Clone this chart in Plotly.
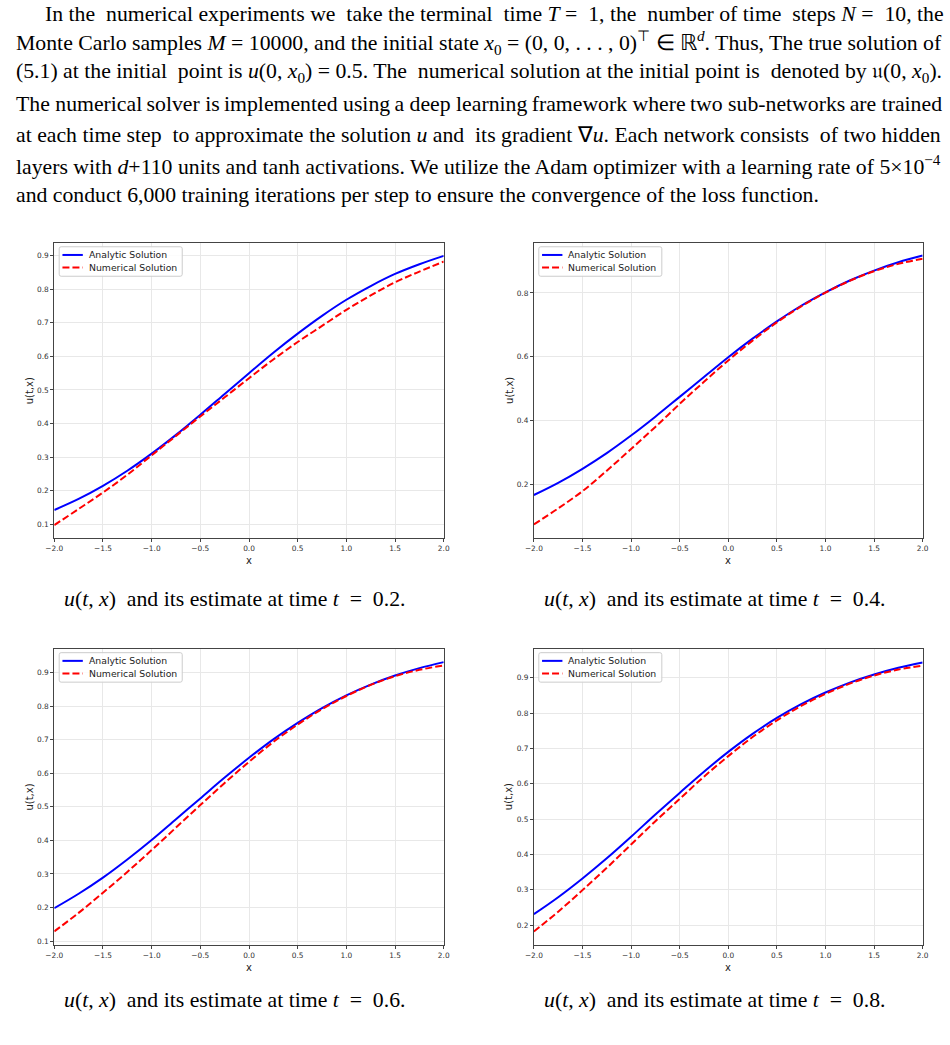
import plotly.graph_objects as go

# ---------------- data ----------------
x_vals = [-2.0, -1.75, -1.5, -1.25, -1.0, -0.75, -0.5, -0.25, 0.0,
          0.25, 0.5, 0.75, 1.0, 1.25, 1.5, 1.75, 2.0]

analytic_t02 = [0.142, 0.175, 0.214, 0.259, 0.310, 0.366, 0.426, 0.488, 0.550,
                0.611, 0.668, 0.721, 0.769, 0.810, 0.846, 0.875, 0.900]
numerical_t02 = [0.097, 0.145, 0.194, 0.247, 0.305, 0.363, 0.421, 0.478, 0.535,
                 0.591, 0.643, 0.691, 0.739, 0.782, 0.821, 0.853, 0.883]

analytic_t04 = [0.168, 0.206, 0.250, 0.299, 0.354, 0.413, 0.475, 0.537, 0.599,
                0.657, 0.711, 0.760, 0.802, 0.839, 0.870, 0.896, 0.917]
numerical_t04 = [0.076, 0.126, 0.180, 0.244, 0.312, 0.381, 0.453, 0.522, 0.589,
                 0.651, 0.708, 0.758, 0.801, 0.838, 0.868, 0.891, 0.907]

analytic_t06 = [0.198, 0.241, 0.289, 0.343, 0.401, 0.463, 0.525, 0.587, 0.646,
                0.701, 0.750, 0.794, 0.832, 0.864, 0.891, 0.913, 0.931]
numerical_t06 = [0.129, 0.184, 0.244, 0.306, 0.371, 0.438, 0.505, 0.571, 0.634,
                 0.693, 0.745, 0.791, 0.830, 0.863, 0.889, 0.908, 0.921]

analytic_t08 = [0.231, 0.279, 0.332, 0.389, 0.450, 0.513, 0.574, 0.634, 0.690,
                0.741, 0.786, 0.825, 0.858, 0.886, 0.909, 0.928, 0.943]
numerical_t08 = [0.182, 0.238, 0.299, 0.362, 0.428, 0.494, 0.557, 0.620, 0.678,
                 0.732, 0.779, 0.820, 0.854, 0.883, 0.906, 0.923, 0.934]

times = ["0.2", "0.4", "0.6", "0.8"]
series_names = ["Analytic Solution", "Numerical Solution"]
x_tick_vals = [-2.0, -1.5, -1.0, -0.5, 0.0, 0.5, 1.0, 1.5, 2.0]
y_ticks_t02 = [0.1, 0.2, 0.3, 0.4, 0.5, 0.6, 0.7, 0.8, 0.9]
y_ticks_t04 = [0.2, 0.4, 0.6, 0.8]
y_ticks_t06 = [0.1, 0.2, 0.3, 0.4, 0.5, 0.6, 0.7, 0.8, 0.9]
y_ticks_t08 = [0.2, 0.3, 0.4, 0.5, 0.6, 0.7, 0.8, 0.9]

paragraph_lines = [
    "In the numerical experiments we take the terminal time <i>T</i> = 1, the number of time steps <i>N</i> = 10, the",
    "Monte Carlo samples <i>M</i> = 10000, and the initial state <i>x</i><sub>0</sub> = (0, 0, . . . , 0)<sup>⊤</sup> ∈ ℝ<sup><i>d</i></sup>. Thus, The true solution of",
    "(5.1) at the initial point is <i>u</i>(0, <i>x</i><sub>0</sub>) = 0.5. The numerical solution at the initial point is denoted by 𝔲(0, <i>x</i><sub>0</sub>).",
    "The numerical solver is implemented using a deep learning framework where two sub-networks are trained",
    "at each time step to approximate the solution <i>u</i> and its gradient ∇<i>u</i>. Each network consists of two hidden",
    "layers with <i>d</i>+110 units and tanh activations. We utilize the Adam optimizer with a learning rate of 5×10<sup>−4</sup>",
    "and conduct 6,000 training iterations per step to ensure the convergence of the loss function.",
]

# ---------------- layout helpers ----------------
W, H = 950, 1045


def px(xp):
    return xp / W


def py(yp):
    return 1 - yp / H


def justify(text, n_extra, thin=0):
    """Widen (extra spaces) or narrow (thin spaces) inter-word gaps."""
    parts = text.split(" ")
    gaps = len(parts) - 1
    seps = [" "] * gaps
    if n_extra > 0:
        for k in range(n_extra):
            idx = int((k + 0.5) * gaps / n_extra)
            seps[idx] += " "
    if thin > 0:
        for k in range(thin):
            idx = int((k + 0.5) * gaps / thin)
            seps[idx] = "\u2009"
    out = parts[0]
    for s, p in zip(seps, parts[1:]):
        out += s + p
    return out


panels = [
    dict(a=analytic_t02, n=numerical_t02, yt=y_ticks_t02, yr=[0.057, 0.939],
         x0=46, x1=441.7, y0=243, y1=539, cap_x=230, cap_y=600),
    dict(a=analytic_t04, n=numerical_t04, yt=y_ticks_t04, yr=[0.032, 0.957],
         x0=533.3, x1=928.3, y0=243, y1=539, cap_x=717, cap_y=600),
    dict(a=analytic_t06, n=numerical_t06, yt=y_ticks_t06, yr=[0.088, 0.971],
         x0=46, x1=441.7, y0=649.3, y1=946, cap_x=230, cap_y=1001),
    dict(a=analytic_t08, n=numerical_t08, yt=y_ticks_t08, yr=[0.1435, 0.982],
         x0=533.3, x1=928.3, y0=649.3, y1=946, cap_x=717, cap_y=1001),
]

BLUE = "#0000ff"
RED = "#ff0000"
DASH = "7px,3px"
TEXT_SIZE = 21.75

fig = go.Figure()
layout = dict(
    width=W, height=H, margin=dict(l=0, r=0, t=0, b=0),
    paper_bgcolor="white", plot_bgcolor="white",
    font=dict(family="DejaVu Sans", color="#222"),
    showlegend=False,
    annotations=[], shapes=[],
)

tick_font = dict(family="DejaVu Sans", size=7.4, color="#333")
title_font = dict(family="DejaVu Sans", size=10, color="#222")
legend_font = dict(family="DejaVu Sans", size=9.3, color="#222")

for i, p in enumerate(panels):
    k = "" if i == 0 else str(i + 1)
    fig.add_trace(go.Scatter(
        x=x_vals, y=p["a"], mode="lines", name=series_names[0],
        line=dict(color=BLUE, width=2, shape="spline"),
        xaxis="x" + k, yaxis="y" + k))
    fig.add_trace(go.Scatter(
        x=x_vals, y=p["n"], mode="lines", name=series_names[1],
        line=dict(color=RED, width=2, dash=DASH, shape="spline"),
        xaxis="x" + k, yaxis="y" + k))

    axis_common = dict(
        showgrid=True, gridcolor="#e8e8e8", gridwidth=1, zeroline=False,
        showline=True, linecolor="#444", linewidth=1, mirror=True,
        ticks="outside", ticklen=3, tickcolor="#444", tickfont=tick_font,
        tickformat=".1f",
    )
    layout["xaxis" + k] = dict(
        domain=[px(p["x0"]), px(p["x1"])], anchor="y" + k,
        range=[-2, 2], tickvals=x_tick_vals, **axis_common)
    layout["yaxis" + k] = dict(
        domain=[py(p["y1"]), py(p["y0"])], anchor="x" + k,
        range=p["yr"], tickvals=p["yt"], **axis_common)

    # axis titles
    layout["annotations"].append(dict(
        x=px((p["x0"] + p["x1"]) / 2), y=py(p["y1"] + 22), xref="paper", yref="paper",
        text="x", showarrow=False, xanchor="center", yanchor="middle", font=title_font))
    layout["annotations"].append(dict(
        x=px(p["x0"] - 25), y=py((p["y0"] + p["y1"]) / 2), xref="paper", yref="paper",
        text="u(t,x)", textangle=-90, showarrow=False, xanchor="center", yanchor="middle",
        font=title_font))

    # legend box (matplotlib style)
    lx0, lx1 = p["x0"] + 5, p["x0"] + 130
    ly0, ly1 = p["y0"] + 4, p["y0"] + 33.5
    r = 2
    path = (f"M{px(lx0 + r)},{py(ly0)} L{px(lx1 - r)},{py(ly0)} "
            f"Q{px(lx1)},{py(ly0)} {px(lx1)},{py(ly0 + r)} "
            f"L{px(lx1)},{py(ly1 - r)} Q{px(lx1)},{py(ly1)} {px(lx1 - r)},{py(ly1)} "
            f"L{px(lx0 + r)},{py(ly1)} Q{px(lx0)},{py(ly1)} {px(lx0)},{py(ly1 - r)} "
            f"L{px(lx0)},{py(ly0 + r)} Q{px(lx0)},{py(ly0)} {px(lx0 + r)},{py(ly0)} Z")
    layout["shapes"].append(dict(
        type="path", path=path, xref="paper", yref="paper",
        fillcolor="rgba(255,255,255,0.85)", line=dict(color="#cccccc", width=1), layer="above"))
    for j, (nm, col, dsh) in enumerate([(series_names[0], BLUE, "solid"),
                                        (series_names[1], RED, DASH)]):
        ey = p["y0"] + 12.2 + 12.6 * j
        layout["shapes"].append(dict(
            type="line", xref="paper", yref="paper", layer="above",
            x0=px(p["x0"] + 8.3), x1=px(p["x0"] + 29), y0=py(ey), y1=py(ey),
            line=dict(color=col, width=2, dash=dsh)))
        layout["annotations"].append(dict(
            x=px(p["x0"] + 33), y=py(ey), xref="paper", yref="paper", align="left",
            text=nm, showarrow=False, xanchor="left", yanchor="middle", font=legend_font))

    # caption
    layout["annotations"].append(dict(
        x=px(p["cap_x"]), y=py(p["cap_y"]), xref="paper", yref="paper",
        text=f"<i>u</i>(<i>t</i>, <i>x</i>)  and its estimate at time <i>t</i>  =  {times[i]}.",
        showarrow=False, xanchor="center", yanchor="middle",
        font=dict(family="Liberation Serif", size=TEXT_SIZE, color="black")))

line_y = [14, 43, 73, 104, 135, 165, 195]
line_x = [34.7, 4.7, 4.7, 4.7, 4.7, 4.7, 4.7]
extra = [7, 0, 3, 0, 3, 0, 0]
thin = [0, 0, 0, 6, 0, 0, 0]
for j, txt in enumerate(paragraph_lines):
    layout["annotations"].append(dict(
        x=px(line_x[j]), y=py(line_y[j]), xref="paper", yref="paper",
        text=justify(txt, extra[j], thin[j]), showarrow=False, xanchor="left",
        yanchor="middle", align="left",
        font=dict(family="Liberation Serif", size=TEXT_SIZE, color="black")))

fig.update_layout(**layout)
fig.write_html("out.html")
